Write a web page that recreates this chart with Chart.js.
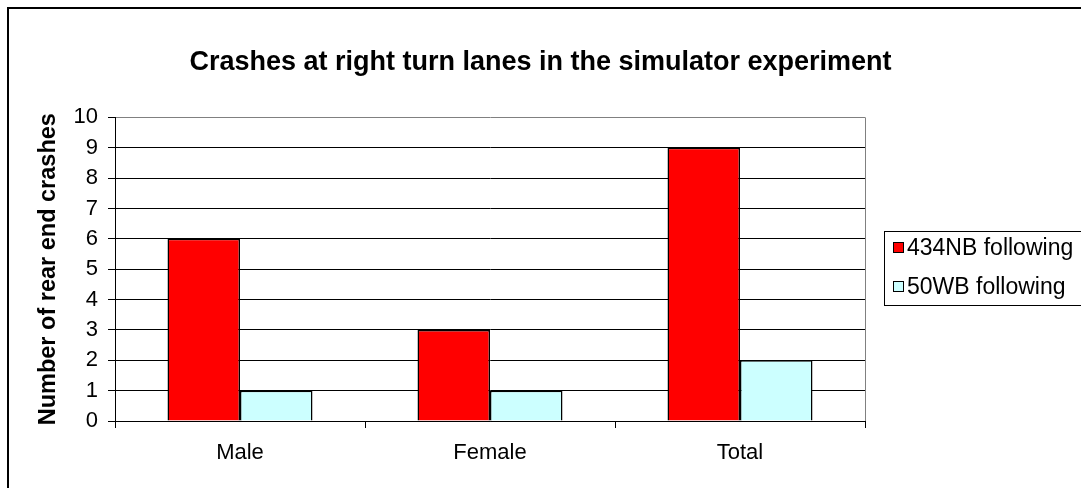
<!DOCTYPE html>
<html>
<head>
<meta charset="utf-8">
<script src="https://cdn.jsdelivr.net/npm/chart.js@4.4.1/dist/chart.umd.min.js"></script>
<style>
  html, body { margin: 0; padding: 0; background: #fff; overflow: hidden; }
  #wrap { position: relative; width: 1081px; height: 488px; overflow: hidden; }
  #frame { position: absolute; left: 7px; top: 7px; width: 1200px; height: 600px; border: 2px solid #000; box-sizing: border-box; pointer-events: none; }
  canvas { position: absolute; left: 0; top: 0; }
</style>
</head>
<body>
<div id="wrap">
  <canvas id="c" width="1081" height="488"></canvas>
  <div id="frame"></div>
</div>
<script>
const categories = ['Male', 'Female', 'Total'];
const series434NB = [6, 3, 9];
const series50WB = [1, 1, 2];
const seriesNames = ['434NB following', '50WB following'];
const yTicks = [0, 1, 2, 3, 4, 5, 6, 7, 8, 9, 10];
const chartTitle = 'Crashes at right turn lanes in the simulator experiment';
const yAxisTitle = 'Number of rear end crashes';

const FONT = "'Liberation Sans', Arial, sans-serif";

const plotBorder = {
  id: 'plotBorder',
  beforeDatasetsDraw(chart) {
    const {ctx, chartArea: a} = chart;
    ctx.save();
    ctx.strokeStyle = '#808080';
    ctx.lineWidth = 1;
    ctx.beginPath();
    ctx.moveTo(Math.round(a.right) + 0.5, a.top);
    ctx.lineTo(Math.round(a.right) + 0.5, a.bottom);
    ctx.stroke();
    ctx.restore();
  }
};

const boxLegend = {
  id: 'boxLegend',
  afterDraw(chart) {
    const {ctx} = chart;
    const x0 = 884.5, y0 = 231.5, w = 200, h = 74;
    ctx.save();
    ctx.fillStyle = '#fff';
    ctx.fillRect(x0, y0, w, h);
    ctx.strokeStyle = '#000';
    ctx.lineWidth = 1;
    ctx.strokeRect(x0, y0, w, h);
    ctx.font = '23px ' + FONT;
    ctx.textBaseline = 'middle';
    ctx.textAlign = 'left';
    const rowsY = [248, 287];
    chart.data.datasets.forEach((ds, i) => {
      const cy = rowsY[i];
      ctx.fillStyle = ds.backgroundColor;
      ctx.fillRect(893.5, cy - 5.5, 10, 10);
      ctx.strokeStyle = '#000';
      ctx.strokeRect(893.5, cy - 5.5, 10, 10);
      ctx.fillStyle = '#000';
      ctx.fillText(ds.label, 907, cy + 1);
    });
    ctx.restore();
  }
};

new Chart(document.getElementById('c'), {
  type: 'bar',
  data: {
    labels: categories,
    datasets: [
      { label: seriesNames[0], data: series434NB, backgroundColor: '#FF0000', borderColor: '#000', borderWidth: 1.5, yAxisID: 'y' },
      { label: seriesNames[1], data: series50WB, backgroundColor: '#CCFFFF', borderColor: '#000', borderWidth: 1.5, yAxisID: 'y' }
    ]
  },
  options: {
    responsive: false,
    devicePixelRatio: 1,
    animation: false,
    categoryPercentage: 0.58,
    barPercentage: 1.0,
    layout: { padding: 0 },
    plugins: {
      legend: { display: false },
      tooltip: { enabled: false },
      title: {
        display: true,
        text: chartTitle,
        color: '#000',
        font: { family: FONT, size: 27, weight: 'bold', lineHeight: 1.2 },
        padding: { top: 46, bottom: 39 }
      }
    },
    scales: {
      x: {
        afterFit(s) { s.height = 67; },
        grid: { display: true, drawOnChartArea: false, drawTicks: true, tickLength: 7, color: '#000', tickColor: '#000', offset: true },
        border: { display: true, color: '#000', width: 1 },
        ticks: { color: '#000', font: { family: FONT, size: 22 }, padding: 12, maxRotation: 0 }
      },
      y: {
        min: 0, max: 10,
        afterFit(s) { s.width = 115; },
        afterBuildTicks(s) { s.ticks = yTicks.map(v => ({ value: v })); },
        grid: {
          color: (c) => (c.tick && c.tick.value === 10 ? '#808080' : '#000'),
          tickColor: '#000',
          tickLength: 7,
          drawTicks: true
        },
        border: { display: true, color: '#000', width: 1 },
        ticks: { color: '#000', font: { family: FONT, size: 22 }, padding: 10, stepSize: 1 },
        title: {
          display: true,
          text: yAxisTitle,
          color: '#000',
          font: { family: FONT, size: 23.5, weight: 'bold', lineHeight: 1.2 },
          padding: { top: 34, bottom: 0 }
        }
      },
      yRight: {
        position: 'right',
        display: true,
        min: 0, max: 10,
        afterFit(s) { s.width = 216; },
        grid: { display: false, drawTicks: false, drawOnChartArea: false },
        border: { display: false },
        ticks: { display: false }
      }
    }
  },
  plugins: [plotBorder, boxLegend]
});
</script>
</body>
</html>
